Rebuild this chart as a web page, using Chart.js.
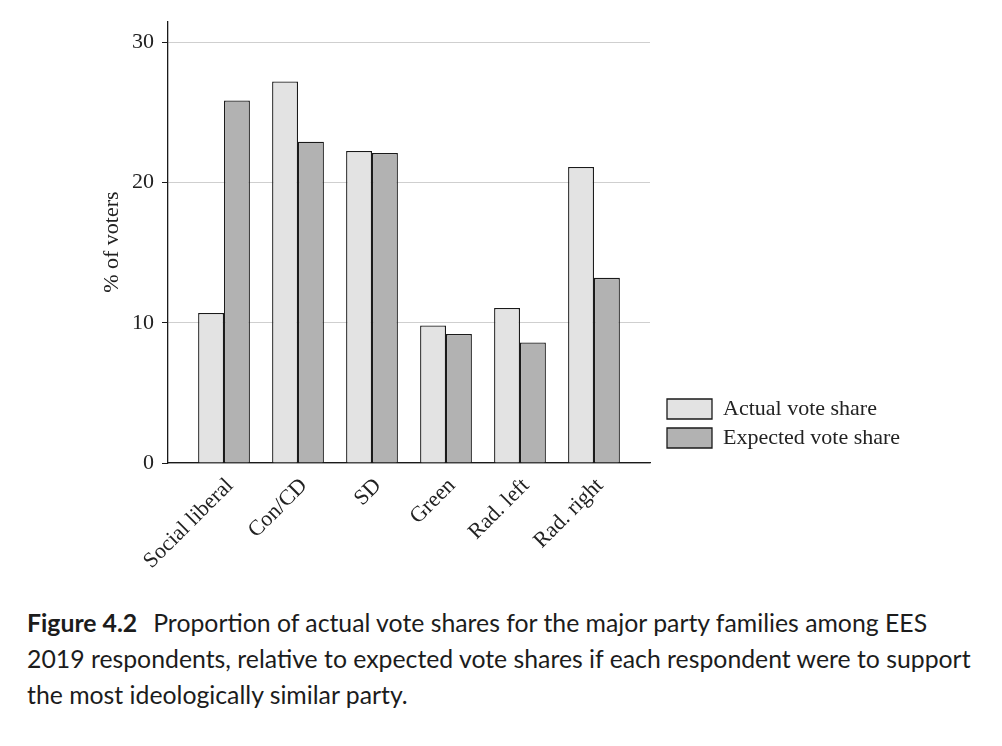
<!DOCTYPE html>
<html>
<head>
<meta charset="utf-8">
<script src="https://cdn.jsdelivr.net/npm/chart.js@4"></script>
<style>
  html, body { margin: 0; padding: 0; background: #fff; }
  #wrap { position: relative; width: 1002px; height: 746px; overflow: hidden; }
  #c { position: absolute; left: 0; top: 0; }
  #caption {
    position: absolute; left: 27px; top: 605px; width: 975px;
    font-family: Lato, "Noto Sans", sans-serif; font-size: 24.8px; line-height: 36px;
    color: #1c1c1c; white-space: nowrap;
  }
  #caption b { font-weight: 700; margin-right: 16px; }
</style>
</head>
<body>
<div id="wrap">
  <canvas id="c" width="1002" height="590"></canvas>
  <div id="caption"><b>Figure 4.2</b>Proportion of actual vote shares for the major party families among EES<br>2019 respondents, relative to expected vote shares if each respondent were to support<br>the most ideologically similar party.</div>
</div>
<script>
const categories = ["Social liberal", "Con/CD", "SD", "Green", "Rad. left", "Rad. right"];
const actualShare = [10.7, 27.2, 22.25, 9.8, 11.05, 21.1];
const expectedShare = [25.85, 22.9, 22.1, 9.2, 8.6, 13.2];
const seriesLabels = ["Actual vote share", "Expected vote share"];
const yTicks = [0, 10, 20, 30];

const serif = "'Liberation Serif', 'DejaVu Serif', serif";
const textColor = "#222";
const fontSize = 22;

const toPoints = arr => arr.map((v, i) => ({ x: i, y: v }));

// place the library-drawn legend box where the reference has it
const legendShift = {
  id: 'legendShift',
  afterLayout(chart) {
    const lg = chart.legend;
    if (lg) {
      lg.left = 667 - 7;
      lg.right = chart.width;
      lg.width = lg.right - lg.left;
      lg.bottom -= 7; lg.top -= 7;
    }
  }
};

new Chart(document.getElementById('c'), {
  type: 'bar',
  data: {
    datasets: [
      {
        label: seriesLabels[0],
        data: toPoints(actualShare),
        backgroundColor: '#e3e3e3',
        borderColor: '#1a1a1a',
        borderWidth: 1.3,
        categoryPercentage: 0.7,
        barPercentage: 1.0
      },
      {
        label: seriesLabels[1],
        data: toPoints(expectedShare),
        backgroundColor: '#b2b2b2',
        borderColor: '#1a1a1a',
        borderWidth: 1.3,
        categoryPercentage: 0.7,
        barPercentage: 1.0
      }
    ]
  },
  options: {
    responsive: false,
    animation: false,
    layout: { padding: { left: 0, top: 17, right: 152, bottom: 0 } },
    plugins: {
      tooltip: { enabled: false },
      legend: {
        position: 'right',
        align: 'end',
        fullSize: false,
        maxWidth: 200,
        labels: {
          boxWidth: 45,
          boxHeight: 20,
          padding: 7,
          color: textColor,
          font: { family: serif, size: fontSize }
        }
      }
    },
    scales: {
      x: {
        type: 'linear',
        min: -0.757,
        max: 5.757,
        offset: false,
        grid: { drawOnChartArea: false, drawTicks: false },
        border: { display: true, color: '#1a1a1a', width: 1.3 },
        afterBuildTicks: scale => {
          scale.ticks = categories.map((c, i) => ({ value: i }));
        },
        afterFit: scale => { scale.height = 127; },
        ticks: {
          autoSkip: false,
          maxRotation: 45,
          minRotation: 45,
          padding: 10,
          labelOffset: 6,
          color: textColor,
          font: { family: serif, size: fontSize },
          callback: v => categories[v]
        }
      },
      y: {
        min: 0,
        max: 31.5,
        afterBuildTicks: scale => {
          scale.ticks = yTicks.map(v => ({ value: v }));
        },
        afterFit: scale => { scale.width = 168; },
        grid: { color: '#cfcfcf', lineWidth: 1, tickColor: '#1a1a1a', tickLength: 6 },
        border: { display: true, color: '#1a1a1a', width: 1.3 },
        title: {
          display: true,
          text: '% of voters',
          color: textColor,
          font: { family: serif, size: fontSize },
          padding: { top: 99, bottom: 0 }
        },
        ticks: {
          padding: 8,
          color: textColor,
          font: { family: serif, size: fontSize }
        }
      }
    }
  },
  plugins: [legendShift]
});
</script>
</body>
</html>
